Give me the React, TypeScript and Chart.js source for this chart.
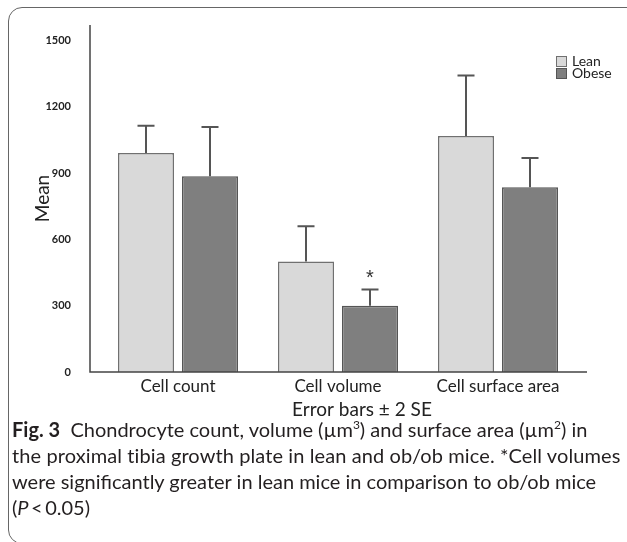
import React, { useEffect, useRef } from "react";
import { Chart, registerables } from "chart.js";

Chart.register(...registerables);

const categories = ["Cell count", "Cell volume", "Cell surface area"];
const leanMeans = [991, 500, 1068];
const obeseMeans = [886, 300, 836];
const leanUpper = [1114, 659, 1341];
const obeseUpper = [1109, 373, 968];
const obeseMarks = ["", "*", ""];
const yTicks = [0, 300, 600, 900, 1200, 1500];
const seriesNames = ["Lean", "Obese"];
const xTitle = "Error bars ± 2 SE";

const FONT = "Lato, 'Open Sans', sans-serif";
const W = 627;
const H = 430;

const extrasPlugin = {
  id: "extras",
  afterDatasetsDraw(chart: any) {
    const { ctx, chartArea, scales } = chart;
    const y = scales.y;
    ctx.save();
    // axis lines
    ctx.strokeStyle = "#444";
    ctx.lineWidth = 1.5;
    ctx.beginPath();
    ctx.moveTo(chartArea.left - 8, chartArea.top);
    ctx.lineTo(chartArea.left - 8, chartArea.bottom);
    ctx.lineTo(chartArea.right + 9, chartArea.bottom);
    ctx.stroke();

    // error bars
    const uppers = [leanUpper, obeseUpper];
    ctx.strokeStyle = "#555";
    ctx.lineWidth = 2;
    chart.data.datasets.forEach((ds: any, di: number) => {
      const meta = chart.getDatasetMeta(di);
      meta.data.forEach((bar: any, i: number) => {
        const cx = bar.x;
        const yTop = y.getPixelForValue(ds.data[i]);
        const yUp = y.getPixelForValue(uppers[di][i]);
        ctx.beginPath();
        ctx.moveTo(cx, yTop);
        ctx.lineTo(cx, yUp);
        ctx.moveTo(cx - 8.5, yUp);
        ctx.lineTo(cx + 8.5, yUp);
        ctx.stroke();
        if (di === 1 && obeseMarks[i]) {
          ctx.fillStyle = "#333";
          ctx.font = `20px 'Liberation Sans', Arial, sans-serif`;
          ctx.textAlign = "center";
          ctx.textBaseline = "alphabetic";
          ctx.fillText(obeseMarks[i], cx, yUp - 6);
        }
      });
    });

    // legend
    const lx = chartArea.right - 22;
    const ly = chartArea.top + 31;
    chart.data.datasets.forEach((ds: any, di: number) => {
      const by = ly + di * 12;
      ctx.fillStyle = ds.backgroundColor;
      ctx.strokeStyle = ds.borderColor;
      ctx.lineWidth = 1;
      ctx.fillRect(lx, by, 11, 11);
      ctx.strokeRect(lx + 0.5, by + 0.5, 10, 10);
      ctx.fillStyle = "#222";
      ctx.font = `14px ${FONT}`;
      ctx.textAlign = "left";
      ctx.textBaseline = "middle";
      ctx.fillText(seriesNames[di], lx + 16, by + 5);
    });

    // x-axis title
    ctx.fillStyle = "#222";
    ctx.font = `19px ${FONT}`;
    ctx.textAlign = "center";
    ctx.textBaseline = "middle";
    ctx.fillText(xTitle, (chartArea.left + chartArea.right) / 2 + 24, chartArea.bottom + 38);
    ctx.restore();
  },
};

function ChartBox() {
  const ref = useRef<HTMLCanvasElement>(null);
  useEffect(() => {
    if (!ref.current) return;
    const chart = new Chart(ref.current, {
      type: "bar",
      data: {
        labels: categories,
        datasets: [
          {
            label: seriesNames[0],
            data: leanMeans,
            backgroundColor: "#d9d9d9",
            borderColor: "#707070",
            borderWidth: 1.5,
            barPercentage: 0.875,
            categoryPercentage: 0.8,
          },
          {
            label: seriesNames[1],
            data: obeseMeans,
            backgroundColor: "#7f7f7f",
            borderColor: "#555555",
            borderWidth: 1.5,
            barPercentage: 0.875,
            categoryPercentage: 0.8,
          },
        ],
      },
      options: {
        responsive: false,
        animation: false,
        devicePixelRatio: 1,
        layout: { padding: { top: 25, right: 49, left: 0, bottom: 0 } },
        plugins: { legend: { display: false }, tooltip: { enabled: false } },
        scales: {
          x: {
            grid: { display: false, drawTicks: false },
            border: { display: false },
            ticks: { color: "#222", font: { family: FONT, size: 17 }, padding: 4 },
            afterFit(scale: any) {
              scale.height = 58;
            },
          },
          y: {
            min: 0,
            max: 1570,
            grid: { display: false, drawTicks: false },
            border: { display: false },
            afterBuildTicks(scale: any) {
              scale.ticks = yTicks.map((v) => ({ value: v }));
            },
            ticks: {
              color: "#222",
              font: { family: FONT, size: 11, weight: "bold" },
              padding: 27,
              callback: (v: any) => String(v),
            },
            title: {
              display: true,
              text: "Mean",
              color: "#222",
              font: { family: FONT, size: 19 },
              padding: { top: 31, bottom: 0 },
            },
            afterFit(scale: any) {
              scale.width = 98;
              scale.paddingTop = 0;
              scale.paddingBottom = 0;
            },
          },
        },
      },
      plugins: [extrasPlugin],
    });
    return () => chart.destroy();
  }, []);
  return <canvas ref={ref} width={W} height={H} style={{ position: "absolute", left: 0, top: 0, width: W, height: H }} />;
}

const lineStyle = (ls: number) => ({ display: "block", letterSpacing: ls });

export default function App() {
  return (
    <div style={{ position: "fixed", left: 0, top: 0, width: 627, height: 542, overflow: "hidden", background: "#fff" }}>
      <div
        style={{
          position: "absolute",
          left: 8,
          top: 7,
          width: 680,
          height: 537,
          border: "1.5px solid #666",
          borderRadius: 14,
          boxSizing: "border-box",
        }}
      />
      <ChartBox />
      <div
        style={{
          position: "absolute",
          left: 12,
          top: 416,
          fontFamily: FONT,
          fontSize: 20,
          lineHeight: "26px",
          color: "#231f20",
          whiteSpace: "nowrap",
        }}
      >
        <span style={lineStyle(0)}>
          <b>Fig. 3</b>&nbsp; Chondrocyte count, volume (µm<sup style={{ fontSize: 12, lineHeight: 0 }}>3</sup>) and surface area (µm
          <sup style={{ fontSize: 12, lineHeight: 0 }}>2</sup>) in
        </span>
        <span style={lineStyle(0.1)}>the proximal tibia growth plate in lean and ob/ob mice. *Cell volumes</span>
        <span style={lineStyle(0)}>were significantly greater in lean mice in comparison to ob/ob mice</span>
        <span style={lineStyle(0)}>
          (<i>P</i>&thinsp;&lt;&thinsp;0.05)
        </span>
      </div>
    </div>
  );
}
